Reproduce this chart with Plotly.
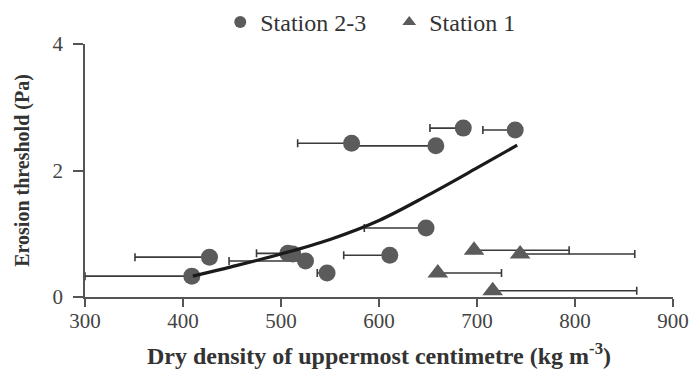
import plotly.graph_objects as go

# Station 2-3 (circles), error bars extend to the left
s23_x = [409, 427, 507, 512, 525, 547, 572, 611, 648, 658, 686, 739]
s23_y = [0.33, 0.63, 0.69, 0.68, 0.57, 0.38, 2.43, 0.66, 1.09, 2.39, 2.67, 2.64]
s23_err_left = [109, 76, 32, 0, 78, 10, 55, 47, 63, 86, 34, 33]

# Station 1 (triangles), error bars extend to the right
s1_x = [697, 744, 660, 716]
s1_y = [0.74, 0.68, 0.38, 0.10]
s1_err_right = [97, 117, 65, 147]

# Fitted curve, points
fit_x = [410, 450, 500, 550, 600, 650, 700, 741]
fit_y = [0.33, 0.48, 0.68, 0.91, 1.21, 1.61, 2.04, 2.40]

x_ticks = [300, 400, 500, 600, 700, 800, 900]
y_ticks = [0, 2, 4]

serif = "Liberation Serif"
mark_col = "#5b5b5b"
err_col = "#3a3a3a"

fig = go.Figure()

fig.add_trace(go.Scatter(
    x=s23_x, y=s23_y, mode="markers", name="Station 2-3\u00a0\u00a0\u00a0",
    marker=dict(symbol="circle", size=17, color=mark_col),
    error_x=dict(type="data", symmetric=False, array=[0] * len(s23_x),
                 arrayminus=s23_err_left, color=err_col, thickness=1.6, width=4),
))

fig.add_trace(go.Scatter(
    x=s1_x, y=s1_y, mode="markers", name="Station 1",
    marker=dict(symbol="triangle-up", size=18, color=mark_col),
    error_x=dict(type="data", symmetric=False, array=s1_err_right,
                 arrayminus=[0] * len(s1_x), color=err_col, thickness=1.6, width=4),
))

fig.add_trace(go.Scatter(
    x=fit_x, y=fit_y, mode="lines", showlegend=False,
    line=dict(color="#1a1a1a", width=3.2, shape="spline", smoothing=1.0),
    hoverinfo="skip",
))

fig.update_layout(
    width=689, height=381,
    margin=dict(l=85, r=16, t=44, b=84, autoexpand=False),
    paper_bgcolor="white", plot_bgcolor="white",
    font=dict(family=serif, color="#333333", size=18),
    showlegend=True,
    legend=dict(orientation="h", x=0.23, xanchor="left", y=1.0, yanchor="top",
                yref="container", font=dict(family=serif, size=24, color="#333333"),
                itemsizing="constant", tracegroupgap=0, itemwidth=30,
                bgcolor="rgba(0,0,0,0)"),
    xaxis=dict(range=[300, 900], tickvals=x_ticks, ticktext=[str(v) for v in x_ticks],
               showgrid=False, zeroline=False, showline=True, linecolor="#555555",
               linewidth=1.5, ticks="outside", ticklen=8, tickcolor="#555555",
               tickwidth=1.5, tickfont=dict(family=serif, size=21, color="#444444"),
               ticklabelstandoff=-4, automargin=False,
               title=dict(text="<b>Dry density of uppermost centimetre (kg m<sup>-3</sup>)</b>",
                          font=dict(family=serif, size=24, color="#333333"), standoff=15)),
    yaxis=dict(range=[0, 4], tickvals=y_ticks, ticktext=[str(v) for v in y_ticks],
               showgrid=False, zeroline=False, showline=True, linecolor="#555555",
               linewidth=1.5, ticks="outside", ticklen=10, tickcolor="#555555",
               tickwidth=1.5, tickfont=dict(family=serif, size=21, color="#444444"),
               ticklabelstandoff=6, automargin=False,
               title=dict(text="<b>Erosion threshold (Pa)</b>",
                          font=dict(family=serif, size=20, color="#333333"), standoff=18)),
)

fig.write_html("out.html", config={"displayModeBar": False},
               post_script="document.body.style.margin='0';document.body.style.overflow='hidden';")
